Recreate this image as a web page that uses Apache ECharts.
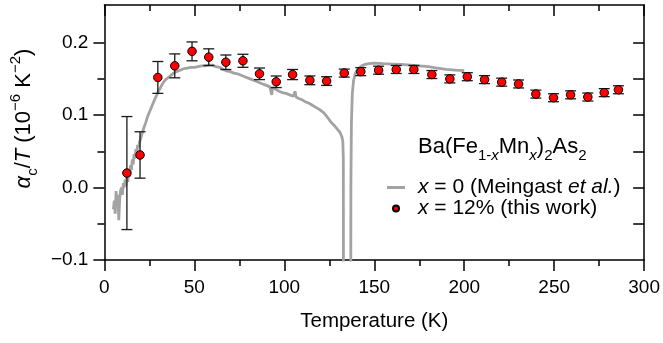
<!DOCTYPE html>
<html>
<head>
<meta charset="utf-8">
<script src="https://cdn.jsdelivr.net/npm/echarts@6/dist/echarts.min.js"></script>
<style>
html,body{margin:0;padding:0;background:#fff;}
#chart{width:663px;height:343px;}
</style>
</head>
<body>
<div id="chart"></div>
<script>
// ---- data ----
const xTicks = [0, 50, 100, 150, 200, 250, 300];
const yTickLabels = [-0.1, 0.0, 0.1, 0.2];
const yMinorTicks = [-0.05, 0.05, 0.15];
const yRightTicks = [-0.05, 0.0, 0.05, 0.1, 0.15, 0.2];

// x = 12% (this work)
const tempX12 = [12.5, 19.8, 29.7, 39.1, 48.7, 58.0, 67.5, 77.0, 86.2, 95.5, 104.6, 114.2, 123.5, 133.3, 142.5, 152.4, 162.2, 172.0, 182.0, 192.0, 201.7, 211.3, 220.8, 230.2, 239.8, 249.6, 259.1, 268.7, 277.8, 285.7];
const alphaX12 = [0.020, 0.045, 0.152, 0.168, 0.188, 0.180, 0.173, 0.175, 0.157, 0.146, 0.156, 0.148, 0.147, 0.158, 0.160, 0.162, 0.163, 0.163, 0.156, 0.150, 0.153, 0.149, 0.1455, 0.143, 0.129, 0.124, 0.128, 0.125, 0.131, 0.135];
const errX12 = [0.078, 0.032, 0.022, 0.0165, 0.013, 0.0115, 0.010, 0.009, 0.008, 0.008, 0.007, 0.006, 0.006, 0.0055, 0.0055, 0.0055, 0.0055, 0.0055, 0.0055, 0.0055, 0.0055, 0.0055, 0.0055, 0.0055, 0.0055, 0.0055, 0.0055, 0.0055, 0.0055, 0.0055];

// x = 0 (Meingast et al.)
const tempX0 = [5.0, 5.5, 6.0, 6.5, 7.0, 7.5, 8.0, 8.5, 9.0, 9.5, 10.0, 10.5, 11.0, 11.5, 12.0, 12.5, 13.0, 13.5, 14.0, 14.5, 15.0, 15.5, 16.0, 16.5, 17.0, 17.5, 18.0, 18.5, 19.0, 19.5, 20, 21, 22, 23, 24, 25, 26, 27, 28, 29, 30, 31, 32, 33, 34, 35, 36, 38, 40, 42, 44, 46, 48, 50, 52, 54, 56, 58, 60, 62, 64, 66, 68, 70, 72, 74, 76, 78, 80, 82, 84, 86, 88, 90, 92, 93, 93.5, 95, 97, 99, 101, 103, 105, 106, 106.5, 108, 110, 112, 114, 116, 118, 120, 122, 124, 126, 127, 128, 129, 130, 131, 132, 132.5, 132.8, 132.9, 136.9, 137.0, 137.3, 137.8, 138.5, 139.5, 141, 143, 145, 147, 150, 155, 160, 165, 170, 175, 180, 185, 190, 195, 200];
const alphaX0 = [-0.030, -0.018, -0.036, -0.005, -0.025, -0.010, -0.045, -0.015, -0.004, 0.000, -0.010, 0.006, 0.000, 0.011, 0.002, 0.016, 0.008, 0.023, 0.015, 0.031, 0.024, 0.039, 0.032, 0.046, 0.040, 0.053, 0.048, 0.059, 0.055, 0.063, 0.066, 0.075, 0.083, 0.090, 0.098, 0.104, 0.110, 0.116, 0.122, 0.127, 0.133, 0.137, 0.142, 0.146, 0.149, 0.151, 0.153, 0.157, 0.160, 0.162, 0.164, 0.165, 0.166, 0.166, 0.167, 0.168, 0.168, 0.169, 0.169, 0.167, 0.166, 0.163, 0.161, 0.160, 0.158, 0.157, 0.155, 0.153, 0.151, 0.149, 0.147, 0.145, 0.143, 0.141, 0.139, 0.128, 0.138, 0.136, 0.133, 0.131, 0.130, 0.128, 0.126, 0.133, 0.125, 0.123, 0.121, 0.118, 0.116, 0.113, 0.110, 0.107, 0.103, 0.097, 0.090, 0.088, 0.085, 0.082, 0.079, 0.076, 0.070, 0.064, 0.040, -0.200, -0.200, 0.000, 0.090, 0.130, 0.148, 0.158, 0.164, 0.168, 0.170, 0.171, 0.1717, 0.171, 0.1705, 0.170, 0.169, 0.168, 0.167, 0.165, 0.163, 0.162, 0.1615];

// ---- chart ----
const FF = "'Liberation Sans', Arial, sans-serif";
const chart = echarts.init(document.getElementById('chart'), null, {renderer: 'canvas'});

const lineData = tempX0.map((t, i) => [t, alphaX0[i]]);
const ptData = tempX12.map((t, i) => [t, alphaX12[i]]);
const errData = tempX12.map((t, i) => [t, alphaX12[i], errX12[i]]);

const axisLineStyle = {color: '#000', width: 1.5};
const tickStyle = {color: '#000', width: 1.5};
const fmtY = v => (v < 0 ? '\u2212' : '') + Math.abs(v).toFixed(1);

const option = {
  animation: false,
  backgroundColor: '#fff',
  grid: {left: 98, right: 16, top: 5, bottom: 83, containLabel: false},
  title: {
    left: 413, top: 126, padding: 5,
    text: '{n|Ba(Fe}{sb|1-}{sbi|x}{n|Mn}{sbi|x}{n|)}{sb|2}{n|As}{sb|2}',
    textStyle: {
      fontWeight: 'normal',
      rich: {
        n: {fontFamily: FF, fontSize: 22, fontWeight: 'normal', lineHeight: 32, color: '#000'},
        sb: {fontFamily: FF, fontSize: 15, fontWeight: 'normal', lineHeight: 16, verticalAlign: 'bottom', color: '#000'},
        sbi: {fontFamily: FF, fontSize: 15, fontWeight: 'normal', lineHeight: 16, verticalAlign: 'bottom', fontStyle: 'italic', color: '#000'}
      }
    }
  },
  legend: {
    orient: 'vertical',
    left: 387, top: 177, padding: 0,
    itemWidth: 18, itemHeight: 6, itemGap: 0,
    selectedMode: false,
    data: [
      {name: 'x0', icon: 'path://M0,0 M18,6 M0,1.5 L18,1.5 L18,4.5 L0,4.5 Z'},
      {name: 'x12'}
    ],
    formatter: name => name === 'x0'
      ? '{sp|}{i|x}{n| = 0 (Meingast }{i|et al.}{n|)}'
      : '{sp|}{i|x}{n| = 12% (this work)}',
    textStyle: {
      fontFamily: FF, fontSize: 21, color: '#000',
      rich: {
        sp: {width: 8},
        n: {fontFamily: FF, fontSize: 21, lineHeight: 23, color: '#000'},
        i: {fontFamily: FF, fontSize: 21, lineHeight: 23, fontStyle: 'italic', color: '#000'}
      }
    }
  },
  xAxis: [
    {
      type: 'value', min: 0, max: 300, interval: 50, position: 'bottom',
      axisLine: {onZero: false, lineStyle: axisLineStyle},
      axisTick: {inside: false, length: 11, lineStyle: tickStyle},
      minorTick: {show: true, splitNumber: 2, length: 6, lineStyle: tickStyle},
      splitLine: {show: false}, minorSplitLine: {show: false},
      axisLabel: {margin: 18, fontFamily: FF, fontSize: 19, color: '#000', showMaxLabel: true},
      name: 'Temperature (K)', nameLocation: 'middle', nameGap: 51,
      nameTextStyle: {fontFamily: FF, fontSize: 20.5, color: '#000'}
    },
    {
      type: 'value', min: 0, max: 300, interval: 50, position: 'top',
      axisLine: {onZero: false, lineStyle: axisLineStyle},
      axisTick: {inside: true, length: 11, lineStyle: tickStyle},
      minorTick: {show: true, splitNumber: 2, length: 6, lineStyle: tickStyle},
      splitLine: {show: false}, minorSplitLine: {show: false},
      axisLabel: {show: false}
    }
  ],
  yAxis: [
    {
      type: 'value', min: -0.1, max: 0.252, interval: 0.1, position: 'left',
      axisLine: {onZero: false, lineStyle: axisLineStyle},
      axisTick: {inside: false, length: 11, lineStyle: tickStyle, customValues: yTickLabels},
      splitLine: {show: false},
      axisLabel: {margin: 16, fontFamily: FF, fontSize: 19, color: '#000', formatter: fmtY, customValues: yTickLabels},
      name: '{i|\u03b1}{sb|c}{n|/}{i|T}{n| (10}{sp|\u22126}{n| K}{sp|\u22122}{n|)}',
      nameLocation: 'middle', nameRotate: 90, nameGap: 55,
      nameTextStyle: {
        padding: [0, 0, 0, 28],
        rich: {
          n: {fontFamily: FF, fontSize: 22, lineHeight: 32, color: '#000'},
          i: {fontFamily: FF, fontSize: 22, lineHeight: 32, fontStyle: 'italic', color: '#000'},
          sb: {fontFamily: FF, fontSize: 15, lineHeight: 17, verticalAlign: 'bottom', color: '#000'},
          sp: {fontFamily: FF, fontSize: 15, lineHeight: 17, verticalAlign: 'top', color: '#000'}
        }
      }
    },
    {
      type: 'value', min: -0.1, max: 0.252, position: 'left',
      axisLine: {show: false, onZero: false},
      axisTick: {inside: false, length: 7, lineStyle: tickStyle, customValues: yMinorTicks},
      splitLine: {show: false},
      axisLabel: {show: false}
    },
    {
      type: 'value', min: -0.1, max: 0.252, position: 'right',
      axisLine: {onZero: false, lineStyle: axisLineStyle},
      axisTick: {inside: true, length: 11, lineStyle: tickStyle, customValues: yRightTicks},
      splitLine: {show: false},
      axisLabel: {show: false}
    }
  ],
  series: [
    {
      name: 'x0', type: 'line', xAxisIndex: 0, yAxisIndex: 0,
      data: lineData, symbol: 'none', showSymbol: false, clip: true,
      lineStyle: {color: '#a3a3a3', width: 2.8}, itemStyle: {color: '#a3a3a3'},
      z: 2
    },
    {
      name: 'err', type: 'custom', xAxisIndex: 0, yAxisIndex: 0,
      data: errData, z: 3, silent: true,
      renderItem: (params, api) => {
        const x = api.value(0), y = api.value(1), e = api.value(2);
        const top = api.coord([x, y + e]);
        const bot = api.coord([x, y - e]);
        const hw = 5.5;
        const st = {stroke: '#1a1a1a', lineWidth: 1.3};
        return {
          type: 'group',
          children: [
            {type: 'line', shape: {x1: top[0], y1: top[1], x2: bot[0], y2: bot[1]}, style: st},
            {type: 'line', shape: {x1: top[0] - hw, y1: top[1], x2: top[0] + hw, y2: top[1]}, style: st},
            {type: 'line', shape: {x1: bot[0] - hw, y1: bot[1], x2: bot[0] + hw, y2: bot[1]}, style: st}
          ]
        };
      }
    },
    {
      name: 'x12', type: 'scatter', xAxisIndex: 0, yAxisIndex: 0,
      data: ptData, symbol: 'circle', symbolSize: 8.5,
      itemStyle: {color: '#ff0000', borderColor: '#000', borderWidth: 1, opacity: 1},
      z: 4
    }
  ]
};
chart.setOption(option);
</script>
</body>
</html>
